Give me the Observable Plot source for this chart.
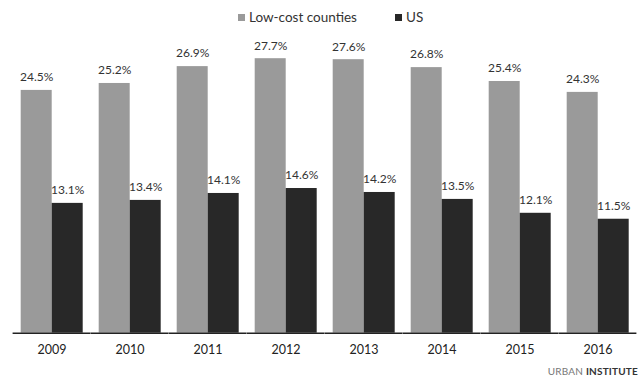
<!DOCTYPE html>
<html>
<head>
<meta charset="utf-8">
<script src="https://cdn.jsdelivr.net/npm/d3@7"></script>
<script src="https://cdn.jsdelivr.net/npm/@observablehq/plot@0.6"></script>
<style>
  html, body { margin: 0; padding: 0; background: #fff; }
  #wrap { position: relative; width: 640px; height: 383px; overflow: hidden; font-family: Lato, "Open Sans", sans-serif; color: #333; }
  #legend { position: absolute; top: 8px; left: 238px; height: 18px; display: flex; align-items: center; font-size: 13.5px; }
  .item { display: flex; align-items: center; }
  .sw { width: 7px; height: 7px; margin-right: 4px; }
  #chart { position: absolute; top: 28px; left: 0; }
  #brand { position: absolute; top: 365px; right: 2px; font-size: 10px; letter-spacing: 0.2px; white-space: nowrap; }
  #brand .a { color: #777; }
  #brand .b { color: #333; font-weight: 700; }
</style>
</head>
<body>
<div id="wrap">
  <div id="legend"></div>
  <div id="chart"></div>
  <div id="brand"><span class="a">URBAN</span> <span class="b">INSTITUTE</span></div>
</div>
<script>
// Share of households, low-cost counties vs. the US
const years = ["2009", "2010", "2011", "2012", "2013", "2014", "2015", "2016"];
const seriesNames = ["Low-cost counties", "US"];
const lowCost = [24.5, 25.2, 26.9, 27.7, 27.6, 26.8, 25.4, 24.3];
const us = [13.1, 13.4, 14.1, 14.6, 14.2, 13.5, 12.1, 11.5];
const colors = ["#9a9a9a", "#282828"];

const rows = years.flatMap((year, i) => [
  {year, series: seriesNames[0], value: lowCost[i]},
  {year, series: seriesNames[1], value: us[i]}
]);

// Legend
const legend = document.getElementById("legend");
seriesNames.forEach((name, i) => {
  const item = document.createElement("div");
  item.className = "item";
  if (i > 0) item.style.marginLeft = "38px";
  const sw = document.createElement("span");
  sw.className = "sw";
  sw.style.background = colors[i];
  const label = document.createElement("span");
  label.textContent = name;
  item.append(sw, label);
  legend.append(item);
});

const chart = Plot.plot({
  width: 640,
  height: 355,
  marginTop: 7.4,
  marginBottom: 50.3,
  marginLeft: 17.3,
  marginRight: 7,
  style: {fontFamily: "Lato, sans-serif", color: "#333", background: "transparent"},
  fx: {domain: years, paddingInner: 0.188, paddingOuter: 0, label: null, axis: null},
  x: {domain: seriesNames, padding: 0, axis: null},
  y: {domain: [0, 30], axis: null},
  color: {domain: seriesNames, range: colors},
  marks: [
    Plot.barY(rows, {fx: "year", x: "series", y: "value", fill: "series"}),
    Plot.ruleY([0], {stroke: "#222", strokeWidth: 1.5, insetLeft: -7.4, insetRight: -7.4}),
    Plot.text(rows, {
      fx: "year", x: "series", y: "value",
      text: d => d.value.toFixed(1) + "%",
      dy: -13, fontSize: 12, fill: "#333"
    }),
    Plot.axisFx({anchor: "bottom", tickSize: 0, tickPadding: 12, fontSize: 12.5, label: null, fill: "#222"})
  ]
});
document.getElementById("chart").append(chart);
</script>
</body>
</html>
